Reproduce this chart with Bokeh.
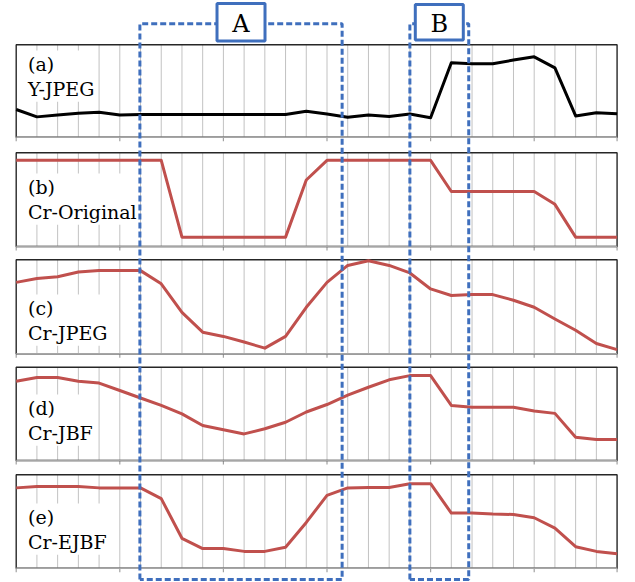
from bokeh.plotting import figure
from bokeh.models import Range1d, Label
from bokeh.core.properties import value
from bokeh.embed import file_html
from bokeh.resources import INLINE

# ---------------- data ----------------
positions = list(range(30))
panel_ids = ["(a)", "(b)", "(c)", "(d)", "(e)"]
panel_names = ["Y-JPEG", "Cr-Original", "Cr-JPEG", "Cr-JBF", "Cr-EJBF"]

y_jpeg = [30, 22, 24, 26, 27, 24, 24.5, 24.5, 24.5, 24.5, 24.5, 24.5, 24.5, 24.5,
          28, 25, 21.5, 24, 22.5, 25, 21, 80.5, 79.5, 79.5, 83.5, 87, 75, 23, 26.5, 25.5]
cr_original = [92, 92, 92, 92, 92, 92, 92, 92, 10, 10, 10, 10, 10, 10, 71,
               92, 92, 92, 92, 92, 92, 58.7, 58.7, 58.7, 58.7, 58.7, 45, 10, 10, 10]
cr_jpeg = [76, 80, 82, 87, 88.5, 88.5, 88.5, 74.5, 44, 23, 18.5, 12.5, 6, 18.5, 49.5,
           76, 94, 99, 94, 86, 69, 62, 63, 63, 57, 49.5, 37, 25, 11, 4.5]
cr_jbf = [85, 89, 89, 85, 83, 75, 67, 59, 50, 37.5, 33, 28.5, 34, 41, 52,
          60, 70, 78.5, 86.5, 91, 91, 59, 57, 57, 57, 53, 50.5, 25, 22.5, 22.5]
cr_ejbf = [86, 87.5, 87.5, 87.5, 86, 86, 86, 74.5, 32, 21, 21, 18, 18, 22.5, 49,
           78, 86, 86.5, 86.5, 90.5, 90.5, 59, 59, 58, 57.5, 54, 43, 23, 18, 15.5]

region_names = ["A", "B"]
region_start = [5.97, 19.0]
region_end = [15.73, 21.84]
tick_positions = [0, 5, 10, 15, 20, 25]

series = [y_jpeg, cr_original, cr_jpeg, cr_jbf, cr_ejbf]
colors = ["#000000", "#c0504d", "#c0504d", "#c0504d", "#c0504d"]

# ---------------- layout ----------------
W, H = 635, 582
X0, DX = 15.7, 20.72
tops = [44.3, 152.3, 259.3, 366.7, 474.3]
bottoms = [136.7, 246.0, 353.3, 460.0, 567.7]
label_tops = [50.0, 173.0, 294.0, 394.0, 503.0]
BOX_TOP, BOX_BOTTOM = 23.3, 579.0
BLUE = "#3f6fbd"

p = figure(width=W, height=H,
           x_range=Range1d(-X0 / DX, (W - X0) / DX),
           y_range=Range1d(H, 0),
           min_border=0, toolbar_location=None,
           x_axis_location=None, y_axis_location=None,
           outline_line_color=None, output_backend="svg",
           background_fill_color="white", border_fill_color="white")
p.grid.visible = False

last = positions[-1]

# vertical grid lines
gx0, gy0, gy1 = [], [], []
for k in range(5):
    for i in positions[1:-1]:
        gx0.append(i)
        gy0.append(tops[k])
        gy1.append(bottoms[k])
p.segment(x0=gx0, y0=gy0, x1=gx0, y1=gy1, line_color="#c2c2c2", line_width=1)

# tick marks below each panel
tx, ty0, ty1 = [], [], []
for k in range(5):
    for t in tick_positions + [last]:
        tx.append(t)
        ty0.append(bottoms[k])
        ty1.append(bottoms[k] + 4)
p.segment(x0=tx, y0=ty0, x1=tx, y1=ty1, line_color="#a0a0a0", line_width=1.2)

# panel frames
p.quad(left=[positions[0]] * 5, right=[last] * 5, top=tops, bottom=bottoms,
       fill_color=None, line_color="#262626", line_width=1.4)
p.segment(x0=[positions[0]] * 5, y0=bottoms, x1=[last] * 5, y1=bottoms,
          line_color="#a6a6a6", line_width=1.6)

# panel labels
for k in range(5):
    p.add_layout(Label(x=(25.5 - X0) / DX, y=label_tops[k],
                       text=panel_ids[k] + "\n" + panel_names[k],
                       text_font="DejaVu Serif", text_font_size="19px",
                       text_color="#000000", text_align="left", text_baseline="top",
                       text_line_height=1.15, background_fill_color="white",
                       padding=2))

# data lines, each panel on its own y scale (0..100 over panel height)
ranges = {}
for k in range(5):
    T, B = tops[k], bottoms[k]
    ranges["p%d" % k] = Range1d(start=(B - H) / (B - T) * 100, end=B / (B - T) * 100)
p.extra_y_ranges = ranges
for k in range(5):
    p.line(positions, series[k], y_range_name="p%d" % k, line_color=colors[k],
           line_width=3, line_join="round")

# dashed region boxes
for s, e in zip(region_start, region_end):
    p.line(x=[s, s, e, e, s], y=[BOX_BOTTOM, BOX_TOP, BOX_TOP, BOX_BOTTOM, BOX_BOTTOM],
           line_color=BLUE, line_width=3, line_dash="6 3", level="overlay")

# region label boxes
centers = [(s + e) / 2 for s, e in zip(region_start, region_end)]
half_w = 24.0 / DX
p.quad(left=[c - half_w for c in centers], right=[c + half_w for c in centers],
       top=[3.0, 4.0], bottom=[40.5, 39.5], fill_color="white",
       line_color=BLUE, line_width=3, level="overlay")
p.text(x=centers, y=[23.0, 23.0], text=region_names, text_align="center",
       text_baseline="middle", text_font=value("DejaVu Serif"),
       text_font_size="24px", text_color="black", level="overlay")

open("out.html", "w").write(file_html(p, INLINE))
